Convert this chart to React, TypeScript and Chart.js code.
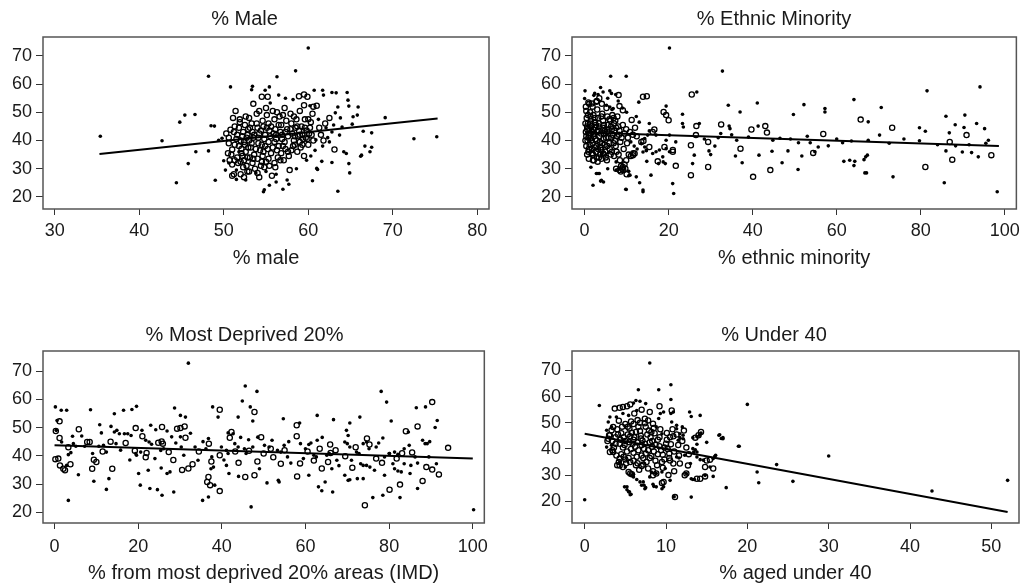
import React, { useEffect, useRef } from "react";
import { Chart, registerables } from "chart.js";

Chart.register(...registerables);

type Pt = [number, number];

// ---------- DATA ----------
const yTicks = [20, 30, 40, 50, 60, 70];
const maleXTicks = [30, 40, 50, 60, 70, 80];
const pctXTicks = [0, 20, 40, 60, 80, 100];
const ageXTicks = [0, 10, 20, 30, 40, 50];

const panelTitles = ["% Male", "% Ethnic Minority", "% Most Deprived 20%", "% Under 40"];
const axisTitles = ["% male", "% ethnic minority", "% from most deprived 20% areas (IMD)", "% aged under 40"];

const maleFit: Pt[] = [[35.3, 35.2], [75.3, 47.8]];
const ethnicFit: Pt[] = [[0.1, 42.8], [98.6, 38.0]];
const deprivedFit: Pt[] = [[0, 43.7], [100, 39.0]];
const under40Fit: Pt[] = [[0, 45.8], [52, 15.9]];

const maleDots: Pt[] = [
  [60, 72.8], [58.5, 64.7], [48.2, 62.8], [56.3, 62.6], [50.8, 59.0], [53.4, 59.2], [55.4, 59.0], [54.9, 57.8],
  [56.5, 56.1], [55.5, 53.3], [60.7, 57.8], [61.7, 57.8], [61.8, 56.1], [63.3, 56.9], [62.8, 57.0], [60.2, 52.3],
  [45.4, 49.0], [46.6, 49.2], [44.8, 46.5], [48.5, 45.2], [48.9, 45.1], [42.7, 39.9], [35.4, 41.5], [46.7, 36.0],
  [48.2, 36.3], [45.8, 31.8], [44.4, 25.0], [49.0, 25.9], [50.0, 32.8], [50.6, 32.0], [51.5, 26.2], [54.7, 21.8],
  [54.8, 22.5], [55.4, 24.1], [56.2, 25.3], [57.0, 22.7], [57.7, 24.5], [60.5, 25.7], [63.5, 22.0], [61.0, 30.1],
  [61.6, 32.6], [61.1, 29.7], [62.8, 32.2], [63.7, 41.9], [64.5, 35.4], [64.2, 36.0], [64.8, 31.8], [64.9, 28.5],
  [66.2, 34.4], [66.3, 34.8], [66.7, 38.0], [67.3, 36.0], [67.5, 37.6], [66.5, 43.3], [67.5, 42.7], [69.1, 48.1],
  [65.3, 48.4], [65.8, 49.0], [65.9, 51.9], [63.5, 51.9], [64.6, 57.0], [64.7, 54.3], [64.8, 52.2], [72.5, 40.6],
  [75.2, 41.3], [49.4, 40.1], [49.8, 40.8], [50.2, 29.5], [53.3, 58.0], [57.3, 55.0], [58.2, 54.5], [62.1, 44.5],
  [62.8, 43.0], [63.0, 45.5], [61.2, 47.5], [62.3, 41.0], [61.7, 38.0], [60.8, 36.5], [60.3, 34.5], [59.8, 33.0],
  [58.6, 30.0], [57.5, 26.0], [56.2, 28.0], [55.0, 29.0], [53.8, 28.5], [52.6, 26.0], [51.5, 29.5], [51.8, 36.0],
  [63.8, 48.0], [63.2, 49.8], [64.0, 44.8], [65.2, 45.8], [62.5, 39.5], [60.9, 40.2]
];
const maleRings: Pt[] = [
  [50.3, 42.5], [50.6, 41.0], [50.8, 43.8], [50.5, 35.5], [50.9, 35.0], [51.0, 27.5], [51.2, 28.0], [50.7, 33.0],
  [51.0, 31.5], [50.6, 39.0], [51.3, 45.0], [51.1, 48.0], [51.4, 50.5], [51.0, 36.8], [51.3, 38.5], [51.6, 42.0],
  [51.8, 44.5], [51.9, 46.5], [52.0, 40.0], [52.1, 37.0], [52.2, 34.5], [51.7, 32.0], [52.3, 30.5], [52.0, 28.0],
  [52.4, 27.0], [51.9, 47.5], [52.3, 43.0], [52.5, 45.5], [52.2, 41.5], [52.5, 38.5], [52.6, 36.0], [52.4, 33.0],
  [52.7, 31.0], [52.8, 29.0], [52.6, 48.5], [52.9, 44.0], [52.8, 42.0], [53.0, 40.0], [53.1, 34.0], [53.2, 37.5],
  [53.3, 46.0], [53.4, 43.0], [53.5, 41.0], [53.6, 35.0], [53.4, 32.0], [53.7, 30.0], [53.5, 53.0], [53.9, 49.5],
  [54.0, 44.5], [54.1, 39.0], [54.2, 42.5], [54.3, 36.5], [54.0, 33.5], [54.4, 31.0], [54.2, 27.0], [54.6, 47.0],
  [54.7, 45.0], [54.8, 40.5], [54.9, 38.0], [54.6, 34.5], [55.0, 32.5], [54.8, 30.5], [54.5, 55.5], [55.2, 55.5],
  [55.1, 49.0], [55.3, 46.0], [55.4, 43.5], [55.5, 41.5], [55.2, 37.0], [55.6, 35.5], [55.4, 31.0], [55.7, 27.5],
  [55.8, 50.5], [56.0, 47.5], [56.1, 44.0], [56.2, 42.0], [56.0, 39.5], [56.3, 36.5], [56.4, 34.0], [56.1, 30.5],
  [56.6, 48.5], [56.8, 45.5], [56.7, 43.0], [56.9, 40.5], [57.0, 38.0], [56.8, 35.5], [57.1, 33.0], [57.2, 51.5],
  [57.4, 47.0], [57.5, 44.0], [57.6, 41.5], [57.3, 37.0], [57.7, 34.5], [57.8, 29.5], [57.9, 49.5], [58.0, 46.0],
  [58.1, 42.5], [58.3, 40.0], [58.0, 36.5], [58.4, 38.5], [58.5, 44.5], [58.6, 47.5], [58.8, 41.5], [58.9, 43.5],
  [59.0, 39.5], [58.7, 36.0], [59.2, 45.0], [59.3, 42.0], [59.4, 40.5], [59.1, 37.5], [59.5, 34.5], [59.6, 47.5],
  [59.8, 43.5], [59.7, 41.0], [60.0, 38.5], [60.2, 44.5], [60.4, 42.0], [59.9, 55.5], [58.9, 55.7], [59.5, 56.3],
  [60.6, 52.0], [61.0, 52.3], [60.5, 49.5], [61.3, 44.5], [61.5, 42.0], [61.8, 40.0], [62.0, 46.0], [62.5, 48.0],
  [63.1, 36.8],
  [51.5, 40.5], [51.2, 43.0], [51.8, 38.0], [52.1, 35.5], [52.4, 39.5], [52.7, 41.0], [52.9, 37.5], [53.1, 44.5],
  [53.3, 39.0], [53.6, 42.0], [53.8, 37.0], [53.9, 46.0], [54.1, 41.0], [54.4, 43.5], [54.5, 38.5], [54.7, 36.0],
  [54.9, 42.0], [55.1, 44.5], [55.3, 39.5], [55.6, 45.0], [55.8, 37.5], [55.9, 42.5], [56.2, 40.5], [56.5, 38.0],
  [56.5, 45.5], [56.9, 42.0], [57.2, 39.5], [57.3, 43.0], [57.6, 36.0], [57.9, 44.0], [58.2, 38.0], [58.4, 41.5],
  [58.7, 45.0], [59.0, 42.0], [59.3, 38.5], [59.6, 44.5], [59.9, 40.5], [60.1, 42.5], [60.3, 46.5], [60.6, 40.0],
  [52.0, 32.5], [52.8, 34.0], [53.5, 33.5], [54.5, 32.5], [55.3, 33.5], [56.0, 32.0], [56.7, 33.0], [53.0, 29.0],
  [54.0, 28.5], [51.6, 34.0], [51.3, 33.0], [55.0, 51.5], [56.3, 50.0], [54.2, 50.5], [57.0, 49.0], [53.0, 48.0],
  [58.3, 48.5], [59.0, 50.5], [60.0, 47.5], [59.5, 52.5]
];

const ethnicDots: Pt[] = [
  [20.2, 72.8], [32.8, 64.6], [6.2, 62.8], [9.9, 62.8], [81.5, 57.6], [94.1, 59.0], [64.1, 54.5], [41.1, 53.3],
  [52.2, 52.7], [34.2, 52.5], [26.7, 57.2], [57.2, 51.3], [57.2, 50.1], [70.6, 51.7], [86.0, 48.6], [90.5, 49.0],
  [49.7, 49.2], [37.0, 50.1], [23.3, 49.3], [19.4, 52.2], [67.5, 46.6], [79.7, 44.5], [81.1, 43.3], [88.2, 45.6],
  [90.3, 44.6], [93.3, 46.0], [95.2, 44.2], [96.1, 40.1], [86.8, 42.7], [88.3, 38.1], [79.7, 39.9], [89.9, 35.9],
  [92.1, 35.7], [93.7, 34.2], [86.0, 36.3], [85.6, 25.0], [98.2, 21.8], [73.4, 27.1], [70.2, 41.9], [67.5, 40.1],
  [67.3, 34.8], [66.9, 34.2], [66.5, 33.2], [66.7, 28.5], [67.1, 28.5], [61.4, 39.2], [61.7, 32.6], [63.1, 33.0],
  [64.3, 32.6], [64.1, 31.1], [58.0, 38.1], [55.6, 37.7], [54.8, 36.0], [53.7, 39.2], [51.7, 34.5], [50.9, 39.2],
  [50.8, 29.7], [48.4, 36.3], [47.0, 32.1], [44.6, 36.2], [44.8, 40.1], [41.3, 45.1], [41.5, 34.8], [37.5, 32.1],
  [35.9, 34.5], [36.2, 40.1], [34.6, 44.2], [34.4, 45.1], [32.4, 42.5], [31.8, 41.0], [29.6, 36.3], [30.0, 35.0],
  [27.3, 46.0], [26.1, 34.8], [25.7, 31.8], [23.5, 44.8], [20.96, 24.7], [21.2, 21.2], [20.2, 41.9], [19.4, 40.1],
  [18.6, 34.2], [17.0, 36.0], [16.2, 35.4], [15.8, 27.7], [15.4, 43.4], [14.8, 32.6], [13.9, 22.4], [13.1, 25.0],
  [9.9, 22.6], [14.3, 37.7], [13.9, 35.9], [14.7, 36.4], [13.5, 38.9], [12.9, 53.6], [0.1, 57.6], [0.0, 54.9],
  [2.0, 24.1], [2.8, 28.3], [3.2, 28.3], [4.0, 25.9], [3.8, 58.8], [4.4, 57.2], [6.0, 57.6], [7.4, 56.3],
  [2.2, 56.0], [5.5, 55.0], [8.0, 54.0], [9.0, 51.5], [10.0, 50.0], [6.5, 51.0], [4.5, 25.3], [7.5, 29.5],
  [5.5, 30.0], [1.5, 30.5], [10.5, 27.5], [11.8, 38.0], [12.5, 37.0], [11.0, 39.5], [13.0, 46.5], [12.3, 48.5],
  [15.4, 46.0], [17.0, 41.9], [15.0, 41.9], [14.3, 40.7], [14.7, 36.6], [17.8, 36.6], [19.4, 37.1], [20.2, 36.0],
  [18.7, 32.4], [19.2, 31.8], [17.6, 31.8], [23.3, 46.0], [21.7, 39.5], [12.3, 27.1], [10.5, 29.1], [10.8, 27.7],
  [7.5, 32.4], [3.5, 28.3], [3.8, 25.6], [9.8, 22.7], [13.9, 21.8], [6.4, 56.7], [2.4, 56.7], [3.2, 56.3],
  [5.2, 52.5], [6.0, 51.9], [6.8, 51.3], [28.5, 40.5], [31.0, 38.0], [35.0, 42.0], [39.0, 41.2], [46.5, 40.8],
  [49.0, 40.5], [53.0, 41.5], [60.0, 40.5], [63.5, 39.8], [72.5, 39.0], [76.0, 40.5], [84.0, 38.5], [91.5, 38.5],
  [95.5, 39.0]
];
const ethnicRings: Pt[] = [
  [25.5, 56.3], [13.9, 55.5], [14.8, 55.7], [18.8, 50.1], [19.4, 49.0], [20.0, 47.2], [65.7, 47.4], [73.2, 44.5],
  [90.9, 41.9], [86.9, 39.5], [96.8, 34.8], [87.5, 33.2], [81.1, 30.6], [56.8, 42.3], [54.4, 35.6], [44.2, 29.5],
  [43.4, 42.8], [43.0, 45.1], [39.7, 43.9], [40.1, 27.1], [37.1, 37.1], [32.5, 45.7], [29.4, 39.5], [29.4, 30.6],
  [26.6, 45.1], [26.5, 41.9], [25.3, 27.7], [25.3, 38.3], [21.7, 31.0], [21.0, 36.0], [21.0, 36.6], [19.0, 37.7],
  [17.4, 32.6], [16.6, 43.9], [16.2, 43.0], [11.2, 47.3], [15.4, 37.7], [13.5, 39.5], [14.0, 39.8], [11.9, 35.4],
  [11.5, 34.8], [9.9, 33.0], [7.5, 30.0], [8.3, 29.5], [9.1, 30.6], [4.0, 36.6], [4.4, 35.4], [2.0, 33.0],
  [8.1, 56.1], [0.9, 53.5], [1.7, 53.1], [2.8, 53.7], [8.3, 52.2], [9.1, 50.7],
  [0.5, 48], [0.8, 46], [0.6, 44], [1.0, 42], [0.7, 40], [1.2, 38.5], [0.9, 36], [1.3, 50], [1.5, 47], [1.6, 45],
  [1.8, 43], [1.4, 41], [1.9, 39], [1.7, 37], [2.0, 35], [2.2, 33], [2.1, 49], [2.4, 46.5], [2.5, 44.5], [2.3, 42.5],
  [2.6, 40.5], [2.8, 38], [2.7, 36], [2.9, 34], [3.1, 32.5], [3.0, 51], [3.2, 48], [3.4, 46], [3.3, 43.5],
  [3.5, 41.5], [3.6, 39.5], [3.8, 37.5], [3.7, 35], [4.0, 33.5], [4.1, 53], [4.2, 49.5], [4.4, 47], [4.3, 44.5],
  [4.6, 42.5], [4.5, 40.5], [4.8, 38.5], [4.9, 36], [5.0, 34], [5.2, 51.5], [5.4, 48.5], [5.5, 45.5], [5.3, 43],
  [5.7, 41], [5.9, 39], [6.0, 37], [6.2, 35], [6.1, 47], [6.5, 44], [6.7, 42], [6.6, 49], [7.0, 46], [7.2, 40],
  [7.4, 38], [7.1, 43.5], [7.6, 36], [7.8, 48.5], [8.0, 45], [8.2, 42], [8.5, 39.5], [8.1, 35], [8.4, 33],
  [8.7, 31], [8.9, 30], [9.2, 29.5], [8.6, 29], [9.5, 31.5], [9.7, 30], [10.0, 28], [9.9, 44], [10.3, 41],
  [10.8, 43], [11.5, 42], [12.0, 44.5], [12.4, 41.5], [10.5, 35], [11.0, 34.5], [11.6, 35.5], [9.3, 37],
  [0.3, 52], [0.4, 50.5], [1.1, 53], [1.9, 52], [2.9, 54], [3.5, 55], [0.2, 46], [0.3, 43], [0.2, 40],
  [0.4, 38], [0.6, 35], [1.0, 33.5],
  [0.6, 45], [1.1, 44], [1.3, 46], [0.9, 41], [1.6, 40], [2.2, 41.5], [2.0, 44], [2.4, 48], [1.4, 48.5],
  [0.8, 49], [2.7, 45.5], [3.0, 43], [2.9, 40], [3.2, 37], [3.5, 45], [3.9, 42.5], [4.0, 48.5], [4.6, 45.5],
  [4.8, 43.5], [4.2, 39], [5.1, 41], [5.4, 38], [5.7, 44], [5.9, 47.5], [6.3, 45], [6.4, 41], [6.9, 39],
  [7.5, 44.5], [7.7, 41.5], [8.3, 43.5], [8.8, 41], [9.1, 45.5], [9.5, 42.5], [10.1, 39], [6.9, 48], [7.3, 47],
  [1.8, 35.5], [2.5, 37.5], [3.4, 34], [4.6, 35], [5.3, 33], [6.5, 36], [7.0, 34.5], [1.0, 37], [0.4, 41.5]
];

const deprivedDots: Pt[] = [
  [32.0, 72.8], [45.6, 64.7], [48.4, 62.8], [78.1, 62.8], [44.9, 59.4], [79.4, 59.0], [0.2, 57.3], [1.6, 56.1],
  [2.9, 56.1], [8.6, 56.3], [16.5, 56.1], [18.5, 56.4], [19.6, 57.5], [28.7, 56.9], [37.8, 57.3], [46.8, 57.3],
  [39.1, 53.7], [88.7, 57.3], [14.3, 54.9], [31.3, 53.7], [30.1, 54.3], [43.9, 53.7], [47.4, 52.3], [54.7, 53.1],
  [58.6, 51.6], [62.8, 54.3], [66.7, 52.8], [70.6, 51.6], [73.0, 53.7], [80.5, 52.3], [91.5, 52.5], [84.6, 48.4],
  [78.5, 46.3], [89.7, 45.0], [88.6, 44.3], [91.3, 37.2], [86.8, 28.4], [85.0, 33.7], [85.2, 36.6], [82.6, 25.2],
  [78.5, 26.0], [76.1, 25.2], [100.2, 20.9], [3.3, 24.2], [35.4, 24.2], [36.8, 25.4], [47.0, 21.9], [25.7, 26.0],
  [28.5, 27.2], [12.4, 28.1], [22.8, 28.4], [24.6, 28.0], [26.9, 33.7], [27.6, 34.3], [5.7, 33.3], [9.4, 31.0],
  [13.0, 31.9], [20.1, 33.7], [20.5, 29.6], [22.4, 34.9], [25.5, 35.7], [38.3, 29.6], [41.1, 36.6], [41.7, 33.7],
  [44.0, 32.7], [50.8, 30.4], [53.5, 31.3], [53.7, 30.7], [49.0, 35.4], [56.5, 37.4], [60.8, 33.1], [63.1, 29.0],
  [63.9, 27.6], [64.7, 30.7], [66.5, 27.2], [66.3, 35.4], [69.4, 33.1], [70.2, 31.3], [70.6, 31.5], [72.4, 31.9],
  [73.8, 31.9], [73.2, 37.2], [73.8, 36.6], [74.6, 36.6], [75.4, 36.0], [76.5, 34.9], [78.9, 33.1], [80.1, 40.8],
  [81.3, 35.4], [82.1, 34.6], [82.9, 34.3], [83.6, 37.2], [84.8, 43.7], [80.9, 37.2], [0.6, 52.5], [0.4, 49.0],
  [1.7, 44.9], [2.9, 36.6], [3.3, 40.4], [3.9, 41.1], [4.5, 44.3], [4.3, 46.9], [5.1, 43.4], [7.2, 43.4],
  [9.1, 40.8], [10.8, 51.0], [11.2, 48.1], [10.6, 43.4], [11.7, 43.7], [12.4, 41.3], [13.5, 50.4], [14.3, 48.4],
  [14.9, 49.0], [14.7, 44.3], [15.5, 47.8], [16.7, 47.8], [17.5, 47.8], [18.3, 47.2], [19.4, 40.8], [19.6, 40.2],
  [20.6, 41.3], [20.9, 49.0], [21.8, 45.5], [22.6, 44.9], [23.2, 44.1], [23.0, 50.8], [24.2, 49.2], [25.4, 41.9],
  [26.1, 42.5], [26.9, 48.8], [28.0, 46.7], [30.1, 46.7], [30.3, 43.1], [30.9, 40.2], [33.6, 43.1], [34.3, 38.4],
  [36.8, 46.1], [36.2, 42.5], [37.6, 39.6], [38.0, 36.0], [37.4, 35.4], [39.9, 43.1], [41.5, 48.1], [42.7, 47.8],
  [41.1, 41.9], [41.5, 40.8], [43.1, 44.3], [43.9, 43.1], [45.4, 42.5], [45.8, 40.8], [46.4, 45.7], [47.4, 43.1],
  [48.6, 46.6], [50.2, 43.7], [51.3, 43.1], [53.3, 41.9], [54.1, 41.3], [54.9, 43.7], [55.7, 39.6], [58.8, 44.3],
  [60.0, 42.5], [60.8, 44.0], [61.3, 44.5], [62.0, 40.2], [62.6, 39.6], [62.8, 45.5], [65.1, 40.2], [65.7, 40.8],
  [67.5, 38.4], [69.4, 44.9], [70.0, 44.3], [70.6, 43.1], [69.8, 49.0], [70.2, 47.2], [71.0, 38.4], [72.2, 41.3],
  [72.8, 40.8], [73.8, 44.3], [74.6, 44.9], [75.2, 42.5], [76.9, 43.1], [78.9, 39.6], [80.0, 40.8], [81.3, 41.3],
  [82.1, 40.5], [83.6, 42.5], [86.2, 39.6], [86.8, 37.4], [88.0, 45.5], [89.1, 44.3], [89.5, 39.6], [91.0, 50.0],
  [86.5, 57.0], [6.5, 47.0], [15.8, 42.0], [18.0, 38.5], [24.0, 39.0], [29.0, 44.5], [32.5, 48.0], [35.5, 45.0],
  [40.5, 38.5], [44.5, 46.5], [52.0, 45.5], [56.0, 45.0], [59.5, 39.0], [64.0, 46.5], [68.0, 36.5], [77.5, 44.5]
];
const deprivedRings: Pt[] = [
  [90.3, 59.0], [39.5, 56.3], [47.8, 55.5], [57.9, 50.8], [86.8, 50.4], [84.0, 48.7], [94.1, 42.8], [90.3, 35.1],
  [91.9, 33.4], [88.0, 31.1], [82.6, 29.8], [80.1, 28.0], [74.2, 22.5], [39.5, 27.5], [13.8, 35.4], [36.5, 30.7],
  [37.2, 29.6], [36.8, 32.5], [45.6, 32.5], [47.8, 33.1], [54.1, 37.2], [58.0, 32.7], [76.9, 39.0], [1.2, 52.2],
  [1.2, 46.3], [0.9, 39.0], [1.3, 36.6], [2.1, 35.4], [2.5, 34.9], [5.8, 49.4], [7.8, 44.9], [8.4, 44.9],
  [9.4, 38.6], [10.0, 37.8], [19.4, 49.8], [21.0, 46.9], [24.8, 44.6], [25.6, 45.1], [25.9, 44.3], [25.7, 50.2],
  [27.3, 41.3], [29.3, 49.6], [30.1, 49.8], [31.1, 50.4], [31.3, 46.4], [36.9, 44.3], [39.5, 40.2], [42.3, 48.4],
  [41.9, 46.4], [49.4, 46.6], [51.7, 42.5], [57.9, 46.9], [63.4, 42.5], [65.9, 44.0], [74.7, 46.1], [83.1, 40.9],
  [0.2, 38.8], [0.3, 48.8], [3.8, 37.0], [9.0, 35.4], [13.4, 45.0], [17.0, 44.5], [22.0, 41.0], [32.0, 35.5],
  [33.0, 37.0], [37.5, 38.0], [43.2, 41.5], [46.5, 41.8], [48.5, 38.0], [52.3, 39.5], [55.0, 42.0], [60.5, 41.5],
  [62.0, 38.3], [67.2, 42.0], [69.5, 39.8], [72.0, 43.0], [78.3, 37.5], [81.8, 39.0], [85.5, 41.2], [88.9, 36.0],
  [30.5, 35.0], [34.5, 41.5], [21.8, 39.5], [11.5, 41.5], [3.3, 43.0], [28.4, 38.5], [44.0, 37.5], [58.7, 37.3],
  [63.9, 35.5], [65.4, 37.8], [71.2, 35.8], [66.0, 41.0], [75.3, 44.0], [50.0, 40.8], [19.2, 41.8]
];

const under40Dots: Pt[] = [
  [8.0, 72.8], [6.6, 62.6], [9.1, 62.6], [10.6, 64.5], [1.8, 56.6], [10.6, 58.9], [20.0, 57.0], [6.0, 57.5],
  [6.3, 58.5], [6.8, 58.2], [7.5, 57.3], [4.7, 53.5], [5.4, 52.8], [9.7, 54.1], [10.6, 53.5], [3.9, 52.2],
  [8.8, 48.4], [9.5, 45.8], [11.3, 47.7], [11.7, 45.8], [12.1, 43.9], [12.9, 54.1], [13.1, 52.4], [14.2, 52.8],
  [16.5, 45.2], [17.0, 44.3], [16.6, 45.4], [17.0, 43.9], [19.0, 41.0], [16.0, 37.2], [15.8, 36.3], [14.2, 35.9],
  [13.6, 39.7], [13.4, 38.8], [13.8, 36.9], [13.0, 34.4], [12.3, 37.6], [11.3, 36.9], [11.6, 36.5], [13.1, 28.6],
  [13.3, 28.3], [15.8, 29.5], [17.4, 25.2], [13.1, 21.6], [11.0, 21.7], [9.7, 25.5], [8.8, 25.5], [8.4, 26.5],
  [7.5, 25.2], [7.3, 26.1], [6.4, 28.3], [6.8, 27.4], [5.7, 22.7], [5.5, 23.6], [4.9, 25.5], [5.2, 24.4],
  [9.5, 31.2], [5.8, 29.9], [6.0, 30.3], [3.3, 41.4], [0.0, 41.4], [0.0, 20.6], [21.2, 31.2], [21.4, 27.1],
  [23.6, 34.0], [25.6, 27.6], [30.0, 37.3], [42.7, 23.9], [52.0, 28.0], [18.9, 41.0], [16.1, 37.6], [14.6, 35.7],
  [13.8, 38.8], [13.3, 40.1], [13.8, 41.8], [14.3, 46.1], [14.1, 45.2], [13.8, 44.6], [13.3, 44.3], [12.1, 45.2],
  [11.7, 44.3], [11.5, 43.3], [12.0, 48.4], [11.3, 49.0], [10.7, 50.3], [10.9, 54.1], [9.3, 53.5], [9.1, 51.6],
  [6.4, 54.7], [15.4, 33.1], [14.8, 29.9], [13.5, 28.3], [12.5, 30.6], [8.0, 29.3], [8.2, 31.2], [8.8, 30.6],
  [9.9, 32.5], [6.0, 29.3], [7.2, 27.4], [8.5, 25.7], [9.5, 24.8], [7.4, 24.8], [7.0, 26.1], [10.5, 28.0],
  [5.4, 23.6], [5.2, 25.5], [5.6, 22.5], [2.7, 40.7], [2.7, 47.1], [3.3, 48.4], [3.1, 52.2], [2.9, 50.3],
  [4.3, 35.0], [5.0, 33.1], [16.8, 44.0], [15.0, 42.5]
];
const under40Rings: Pt[] = [
  [3.7, 55.4], [4.3, 55.7], [4.7, 56.0], [5.2, 56.3], [5.6, 57.0], [8.0, 54.1], [9.2, 56.3], [10.7, 54.7],
  [3.5, 48.4], [3.3, 47.1], [3.1, 45.2], [2.9, 43.9], [7.4, 51.5], [7.8, 50.9], [8.4, 49.6], [10.1, 46.1],
  [10.5, 44.5], [10.9, 44.8], [14.3, 46.5], [14.0, 45.2], [13.6, 44.3], [15.0, 35.6], [15.4, 35.9], [14.8, 33.1],
  [15.8, 32.5], [12.7, 33.7], [10.5, 35.6], [10.9, 34.4], [11.7, 34.4], [12.5, 30.6], [12.3, 29.9], [13.8, 28.6],
  [14.2, 28.6], [14.8, 29.5], [11.1, 21.6], [8.4, 29.9], [8.8, 30.6], [9.7, 27.4], [4.7, 33.1], [4.3, 33.7],
  [5.4, 31.2], [4.3, 36.3], [3.5, 38.8], [3.4, 39.5], [9.5, 27.0], [4.0, 33.8], [5.6, 30.6], [5.8, 30.3],
  [3.1, 38.8],
  [4.0, 47.5], [4.5, 46.0], [4.8, 44.5], [5.0, 43.0], [4.3, 42.0], [4.7, 40.5], [5.2, 39.0], [5.5, 47.8],
  [5.8, 46.2], [5.6, 44.8], [6.0, 43.5], [5.9, 42.0], [6.2, 40.8], [6.0, 38.5], [6.4, 37.0], [6.6, 48.5],
  [6.8, 46.8], [6.9, 45.0], [7.1, 43.2], [7.0, 41.5], [7.3, 40.0], [7.5, 38.2], [7.2, 36.5], [7.6, 35.0],
  [7.9, 47.0], [8.1, 44.5], [8.0, 42.5], [8.3, 40.8], [8.5, 39.0], [8.2, 37.3], [8.7, 35.5], [8.9, 33.8],
  [9.0, 43.5], [9.2, 41.0], [9.4, 39.5], [9.6, 37.8], [9.8, 36.0], [9.3, 47.5], [10.0, 42.0], [10.2, 40.0],
  [10.4, 38.2], [10.6, 41.8], [3.8, 44.5], [3.6, 40.5], [3.9, 37.5], [4.2, 35.0], [5.1, 34.5], [5.4, 36.5],
  [6.3, 33.8], [6.7, 32.0], [7.0, 33.5], [7.8, 32.5], [8.4, 31.5], [5.0, 49.5], [5.7, 50.5], [6.5, 51.0],
  [7.4, 49.8], [8.5, 48.0], [4.2, 50.8], [6.1, 53.5], [7.0, 55.0], [3.0, 45.2], [2.8, 43.0], [11.0, 39.0],
  [11.5, 41.5], [12.0, 43.0], [12.5, 40.5], [11.3, 45.5], [12.2, 47.0], [10.8, 47.5], [11.6, 37.5], [12.8, 38.0],
  [9.6, 32.8], [10.3, 30.0], [11.0, 31.5],
  [4.4, 43.5], [4.9, 41.5], [5.3, 45.5], [5.5, 42.5], [5.7, 40.0], [6.1, 44.5], [6.3, 46.5], [6.5, 42.5],
  [6.6, 39.5], [6.9, 44.0], [7.0, 37.5], [7.4, 42.0], [7.7, 45.5], [7.8, 39.5], [8.0, 36.5], [8.3, 43.0],
  [8.6, 46.0], [8.7, 41.5], [9.0, 38.0], [9.2, 44.5], [9.5, 35.0], [4.5, 38.0], [4.8, 37.0], [5.0, 36.0],
  [5.6, 35.0], [6.0, 35.5], [6.5, 34.5], [7.2, 34.0], [4.1, 45.5], [4.6, 48.5], [5.3, 48.5], [6.0, 49.5],
  [6.8, 50.0], [7.5, 48.5], [8.2, 46.5], [3.8, 42.0], [3.4, 43.0], [9.8, 40.5], [10.1, 43.5], [10.4, 36.5]
];

// ---------- LAYOUT / STYLE ----------
const FONT = "'Liberation Sans', Arial, Helvetica, sans-serif";
const TEXT = "#1a1a1a";

type PanelCfg = {
  left: number; top: number; width: number; height: number;
  title: string; xTitle: string;
  xMin: number; xMax: number; yMin: number; yMax: number;
  xTicks: number[];
  dots: Pt[]; rings: Pt[]; fit: Pt[];
  titleTop: number; tickPad: number; xTitleBottom: number;
};

const panels: PanelCfg[] = [
  { left: 0, top: 0, width: 497, height: 269, title: panelTitles[0], xTitle: axisTitles[0],
    xMin: 28.62, xMax: 81.38, yMin: 15.7, yMax: 76.7, xTicks: maleXTicks, dots: maleDots, rings: maleRings, fit: maleFit,
    titleTop: 9, tickPad: 7, xTitleBottom: 1 },
  { left: 529, top: 0, width: 498, height: 269, title: panelTitles[1], xTitle: axisTitles[1],
    xMin: -3.0, xMax: 102.76, yMin: 15.7, yMax: 76.7, xTicks: pctXTicks, dots: ethnicDots, rings: ethnicRings, fit: ethnicFit,
    titleTop: 9, tickPad: 7, xTitleBottom: 1 },
  { left: 0, top: 314, width: 497, height: 269, title: panelTitles[2], xTitle: axisTitles[2],
    xMin: -2.76, xMax: 102.76, yMin: 16.2, yMax: 77.1, xTicks: pctXTicks, dots: deprivedDots, rings: deprivedRings, fit: deprivedFit,
    titleTop: 11, tickPad: 9, xTitleBottom: 0 },
  { left: 529, top: 314, width: 498, height: 269, title: panelTitles[3], xTitle: axisTitles[3],
    xMin: -1.56, xMax: 53.4, yMin: 11.7, yMax: 77.4, xTicks: ageXTicks, dots: under40Dots, rings: under40Rings, fit: under40Fit,
    titleTop: 11, tickPad: 9, xTitleBottom: 0 },
];

const boxPlugin = {
  id: "plotBox",
  afterDatasetsDraw(chart: any) {
    const { ctx, chartArea } = chart;
    const { left, top, right, bottom } = chartArea;
    ctx.save();
    ctx.strokeStyle = "#555";
    ctx.lineWidth = 1.5;
    ctx.strokeRect(left, top, right - left, bottom - top);
    ctx.restore();
  },
};

const toXY = (pts: Pt[]) => pts.map(([x, y]) => ({ x, y }));

function Panel({ cfg }: { cfg: PanelCfg }) {
  const ref = useRef<HTMLCanvasElement>(null);
  useEffect(() => {
    if (!ref.current) return;
    const chart = new Chart(ref.current, {
      type: "scatter",
      data: {
        datasets: [
          {
            data: toXY(cfg.fit),
            showLine: true,
            borderColor: "#000",
            borderWidth: 2,
            pointRadius: 0,
            order: 0,
          } as any,
          {
            data: toXY(cfg.rings),
            pointRadius: 2.6,
            pointBackgroundColor: "rgba(0,0,0,0)",
            pointBorderColor: "#000",
            pointBorderWidth: 1.3,
            order: 1,
          },
          {
            data: toXY(cfg.dots),
            pointRadius: 1.8,
            pointBackgroundColor: "#000",
            pointBorderWidth: 0,
            order: 2,
          },
        ],
      },
      options: {
        responsive: false,
        animation: false,
        layout: { padding: { left: 0, right: 8, top: 0, bottom: 0 } },
        plugins: {
          legend: { display: false },
          tooltip: { enabled: false },
          title: {
            display: true,
            text: cfg.title,
            color: TEXT,
            font: { family: FONT, size: 20, weight: "normal", lineHeight: 1 },
            padding: { top: cfg.titleTop, bottom: 37 - 20 - cfg.titleTop },
          },
        },
        scales: {
          x: {
            type: "linear",
            min: cfg.xMin,
            max: cfg.xMax,
            afterBuildTicks: (s: any) => { s.ticks = cfg.xTicks.map((v) => ({ value: v })); },
            afterFit: (s: any) => { s.height = 60; },
            grid: { display: true, drawOnChartArea: false, drawTicks: true, tickLength: 6, color: "#333", lineWidth: 1 },
            border: { display: false },
            ticks: { color: TEXT, padding: cfg.tickPad, maxRotation: 0, font: { family: FONT, size: 18, lineHeight: 1 } },
            title: {
              display: true,
              text: cfg.xTitle,
              color: TEXT,
              font: { family: FONT, size: 20, lineHeight: 1 },
              padding: { top: 0, bottom: cfg.xTitleBottom },
            },
          },
          y: {
            type: "linear",
            min: cfg.yMin,
            max: cfg.yMax,
            afterBuildTicks: (s: any) => { s.ticks = yTicks.map((v) => ({ value: v })); },
            afterFit: (s: any) => { s.width = 43; },
            grid: { display: true, drawOnChartArea: false, drawTicks: true, tickLength: 7, color: "#333", lineWidth: 1 },
            border: { display: false },
            ticks: { color: TEXT, padding: 4, font: { family: FONT, size: 18, lineHeight: 1 } },
          },
        },
      },
      plugins: [boxPlugin],
    } as any);
    return () => chart.destroy();
  }, [cfg]);
  return (
    <div style={{ position: "absolute", left: cfg.left, top: cfg.top, width: cfg.width, height: cfg.height }}>
      <canvas ref={ref} width={cfg.width} height={cfg.height} style={{ display: "block", width: cfg.width, height: cfg.height }} />
    </div>
  );
}

export default function App() {
  return (
    <div style={{ position: "absolute", left: 0, top: 0, width: 1027, height: 586, background: "#fff", overflow: "hidden" }}>
      {panels.map((p, i) => (
        <Panel key={i} cfg={p} />
      ))}
    </div>
  );
}
